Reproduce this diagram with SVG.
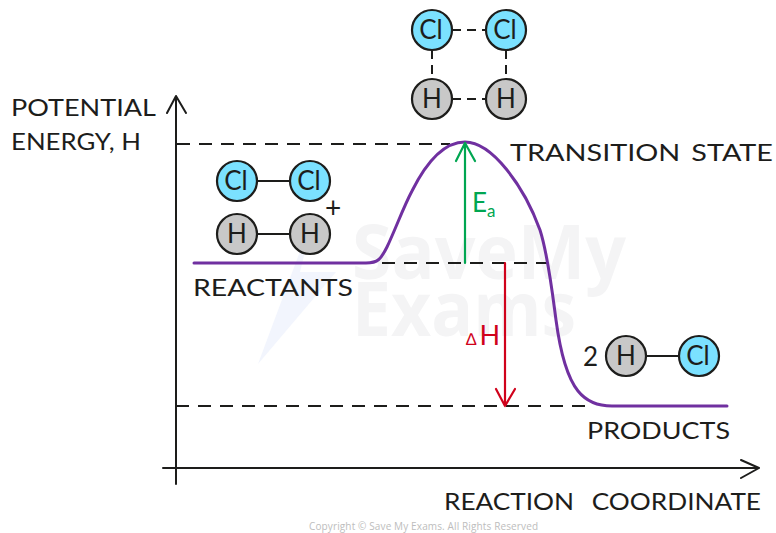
<svg xmlns="http://www.w3.org/2000/svg" width="776" height="533" viewBox="0 0 776 533">
<style>
.t{font-family:Lato,"Open Sans","Liberation Sans",sans-serif;font-size:24px;fill:#1d1d1b}
.a{stroke:#1d1d1b;stroke-width:2;fill:none;stroke-linecap:round;stroke-linejoin:round}
.d{stroke:#1d1d1b;stroke-width:2;fill:none;stroke-dasharray:13 9}
.b{stroke:#1d1d1b;stroke-width:2;fill:none}
.cl{fill:#7be1ff;stroke:#1d1d1b;stroke-width:2.2}
.h{fill:#c8c8c8;stroke:#1d1d1b;stroke-width:2.2}
.l{font-family:Lato,"Open Sans","Liberation Sans",sans-serif;font-size:26px;fill:#1d1d1b;text-anchor:middle}
.w{font-family:"Open Sans","Liberation Sans",sans-serif;font-weight:700;font-size:76px;fill:#f4f4f5}
</style>
<rect width="776" height="533" fill="#fff"/>
<g id="watermark">
<path d="M315 211 L258 364 L336 272 L300 272 Z" fill="#f2f5fd"/>
<text class="w" x="352" y="279" textLength="274" lengthAdjust="spacingAndGlyphs">SaveMy</text>
<text class="w" x="352" y="336" textLength="224" lengthAdjust="spacingAndGlyphs">Exams</text>
</g>
<g id="connectors">
<path class="d" d="M177 144H450"/>
<path class="d" d="M382 263H548"/>
<path class="d" d="M176 406H592"/>
<path class="a" d="M176 484V96M167 113L176 96L186 113"/>
<path class="a" d="M163 468H759M741 460L759 468L741 478"/>
<path d="M194 263H366C378 263 381 259 387 247C396 228 403 208 412 191C426 163 444 142 465 142C492 142 524 186 540 230C548 255 552 290 556 320C560 350 566 376 578 391C586 401 596 406 612 406L727 406" fill="none" stroke="#7030a0" stroke-width="3" stroke-linecap="round"/>
<path d="M465 263V143M456 161L465 143L475 161" fill="none" stroke="#00a651" stroke-width="2.2" stroke-linejoin="round" stroke-linecap="round"/>
<path d="M505 263V406M496 389L505 406L515 389" fill="none" stroke="#d0021b" stroke-width="2.2" stroke-linejoin="round" stroke-linecap="round"/>
<path class="d" style="stroke-dasharray:9 6" d="M452 30H486M452 99H486M432 50V79M506 50V79"/>
<path class="b" d="M257 181H290M257 234H290M646 356H679"/>
</g>
<g id="ts-cl1"><circle class="cl" cx="432" cy="30" r="20"/><text class="l" x="431" y="39">Cl</text></g>
<g id="ts-cl2"><circle class="cl" cx="506" cy="30" r="20"/><text class="l" x="505" y="39">Cl</text></g>
<g id="ts-h1"><circle class="h" cx="432" cy="99" r="20"/><text class="l" x="432" y="108">H</text></g>
<g id="ts-h2"><circle class="h" cx="506" cy="99" r="20"/><text class="l" x="506" y="108">H</text></g>
<g id="r-cl1"><circle class="cl" cx="237" cy="181" r="20"/><text class="l" x="236" y="190">Cl</text></g>
<g id="r-cl2"><circle class="cl" cx="310" cy="181" r="20"/><text class="l" x="309" y="190">Cl</text></g>
<g id="r-h1"><circle class="h" cx="237" cy="234" r="20"/><text class="l" x="237" y="243">H</text></g>
<g id="r-h2"><circle class="h" cx="310" cy="234" r="20"/><text class="l" x="310" y="243">H</text></g>
<g id="p-h"><circle class="h" cx="626" cy="356" r="20"/><text class="l" x="626" y="365">H</text></g>
<g id="p-cl"><circle class="cl" cx="699" cy="356" r="20"/><text class="l" x="698" y="365">Cl</text></g>
<g id="labels">
<text class="t" x="11" y="116" textLength="145" lengthAdjust="spacingAndGlyphs">POTENTIAL</text>
<text class="t" x="11" y="150" textLength="130" lengthAdjust="spacingAndGlyphs">ENERGY, H</text>
<text class="t" x="510" y="161" textLength="263" lengthAdjust="spacingAndGlyphs" word-spacing="3">TRANSITION STATE</text>
<text class="t" x="193" y="296" textLength="160" lengthAdjust="spacingAndGlyphs">REACTANTS</text>
<text class="t" x="587" y="439" textLength="143" lengthAdjust="spacingAndGlyphs">PRODUCTS</text>
<text class="t" x="444" y="510" textLength="317" lengthAdjust="spacingAndGlyphs" word-spacing="10">REACTION COORDINATE</text>
<text class="t" x="583" y="366" style="font-size:26px">2</text>
<text class="t" x="325" y="218" style="font-size:28px">+</text>
<text x="472" y="212" style="font-family:Lato,sans-serif;font-size:26px;fill:#00a651">E<tspan dy="5" style="font-size:17px">a</tspan></text>
<text x="466" y="345" style="font-family:'Liberation Sans',sans-serif;font-size:17px;fill:#d0021b">∆<tspan dx="3" style="font-family:Lato,sans-serif;font-size:27px">H</tspan></text>
<text x="309" y="530" textLength="229" style="font-family:'Open Sans','Liberation Sans',sans-serif;font-size:10px;fill:#bdbdbd">Copyright © Save My Exams. All Rights Reserved</text>
</g>
</svg>
